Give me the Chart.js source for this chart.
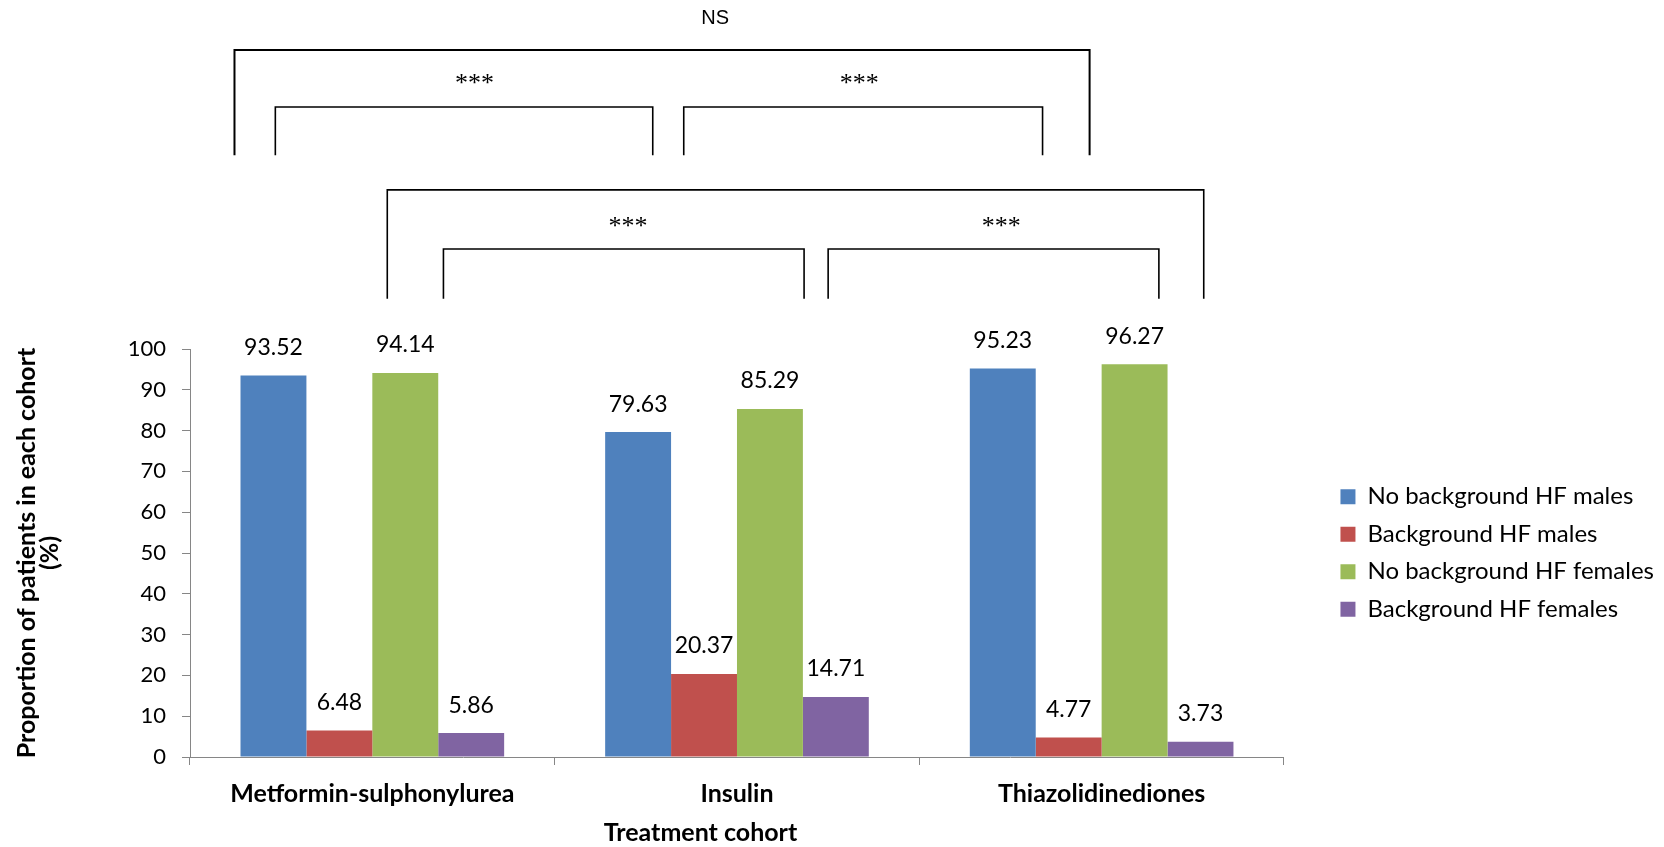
<!DOCTYPE html>
<html>
<head>
<meta charset="utf-8">
<script src="https://cdn.jsdelivr.net/npm/chart.js@4.4.1/dist/chart.umd.min.js"></script>
<style>
html, body { margin: 0; padding: 0; background: #fff; }
#wrap { position: relative; width: 1664px; height: 847px; }
</style>
</head>
<body>
<div id="wrap"><canvas id="hfChart"></canvas></div>
<script>
const cohorts = ['Metformin-sulphonylurea', 'Insulin', 'Thiazolidinediones'];
const seriesNames = ['No background HF males', 'Background HF males', 'No background HF females', 'Background HF females'];
const noHfMales = [93.52, 79.63, 95.23];
const hfMales = [6.48, 20.37, 4.77];
const noHfFemales = [94.14, 85.29, 96.27];
const hfFemales = [5.86, 14.71, 3.73];
const seriesColors = ['#4F81BD', '#C0504D', '#9BBB59', '#8064A2'];

// significance brackets: from/to in cohort widths from the left of the x axis,
// top/foot/textY in % units of the y axis (above 100 = above the plot)
const brackets = [
    { from: 0.122, to: 2.467, top: 173.3, foot: 147.5, text: 'NS',  textX: 1.44,  textY: 181.0, lw: 2 },
    { from: 0.234, to: 1.269, top: 159.3, foot: 147.5, text: '***', textX: 0.78,  textY: 165.9, lw: 1.6 },
    { from: 1.354, to: 2.338, top: 159.3, foot: 147.5, text: '***', textX: 1.835, textY: 165.9, lw: 1.6 },
    { from: 0.541, to: 2.780, top: 139.0, foot: 112.3, text: '',    textX: 0,     textY: 0,     lw: 1.6 },
    { from: 0.695, to: 1.684, top: 124.5, foot: 112.3, text: '***', textX: 1.201, textY: 130.8, lw: 1.6 },
    { from: 1.750, to: 2.657, top: 124.5, foot: 112.3, text: '***', textX: 2.225, textY: 130.8, lw: 1.6 }
];

Chart.defaults.font.family = 'Lato';
Chart.defaults.color = '#000';

const barLabels = {
    id: 'barLabels',
    afterDatasetsDraw(chart) {
        const ctx = chart.ctx;
        ctx.save();
        ctx.font = '23px Lato';
        ctx.fillStyle = '#000';
        ctx.textAlign = 'center';
        ctx.textBaseline = 'middle';
        chart.data.datasets.forEach((ds, i) => {
            chart.getDatasetMeta(i).data.forEach((bar, j) => {
                ctx.fillText(ds.data[j].toFixed(2), bar.x, bar.y - 28);
            });
        });
        ctx.restore();
    }
};

const sigBrackets = {
    id: 'sigBrackets',
    afterDraw(chart) {
        const { ctx, scales: { x, y } } = chart;
        const unit = x.width / cohorts.length;
        const px = u => x.left + u * unit;
        ctx.save();
        ctx.strokeStyle = '#000';
        ctx.fillStyle = '#000';
        ctx.textAlign = 'center';
        ctx.textBaseline = 'middle';
        brackets.forEach(b => {
            ctx.lineWidth = b.lw;
            ctx.beginPath();
            ctx.moveTo(px(b.from), y.getPixelForValue(b.foot));
            ctx.lineTo(px(b.from), y.getPixelForValue(b.top));
            ctx.lineTo(px(b.to), y.getPixelForValue(b.top));
            ctx.lineTo(px(b.to), y.getPixelForValue(b.foot));
            ctx.stroke();
            if (!b.text) return;
            if (b.text === 'NS') {
                ctx.font = '20px "Liberation Sans"';
                ctx.fillText(b.text, px(b.textX), y.getPixelForValue(b.textY));
            } else {
                ctx.font = '26px "Liberation Serif"';
                ctx.fillText(b.text, px(b.textX), y.getPixelForValue(b.textY) + 4);
            }
        });
        // x axis title, sits left of centre in the original
        ctx.font = 'bold 25px Lato';
        ctx.fillText('Treatment cohort', px(1.4), 833);
        ctx.restore();
    }
};

const series = [noHfMales, hfMales, noHfFemales, hfFemales];
new Chart(document.getElementById('hfChart'), {
    type: 'bar',
    data: {
        labels: cohorts,
        datasets: series.map((d, i) => ({
            label: seriesNames[i],
            data: d,
            backgroundColor: seriesColors[i],
            borderWidth: 0,
            categoryPercentage: 0.723,
            barPercentage: 1
        }))
    },
    options: {
        responsive: true,
        maintainAspectRatio: false,
        animation: false,
        layout: { padding: { top: 349, right: 0, bottom: 0, left: 0 } },
        scales: {
            x: {
                grid: { offset: true, drawOnChartArea: false, tickLength: 8, color: '#868686' },
                border: { color: '#868686' },
                ticks: { font: { size: 25, weight: 'bold' }, padding: 14, maxRotation: 0, autoSkip: false },
                afterFit: s => { s.height = 90; }
            },
            y: {
                min: 0,
                max: 100,
                ticks: { stepSize: 10, font: { size: 22 }, padding: 16 },
                grid: { drawOnChartArea: false, tickLength: 8, color: '#868686' },
                border: { color: '#868686' },
                title: {
                    display: true,
                    text: ['Proportion of patients in each cohort', '(%)'],
                    font: { size: 25, weight: 'bold', lineHeight: 0.94 },
                    padding: { top: 15, bottom: 0 }
                },
                afterFit: s => { s.width = 190; }
            },
            gap: {
                position: 'right',
                display: true,
                grid: { display: false },
                ticks: { display: false },
                border: { display: false },
                afterFit: s => { s.width = 43; }
            }
        },
        plugins: {
            legend: {
                position: 'right',
                fullSize: false,
                maxWidth: 400,
                labels: { boxWidth: 15, boxHeight: 15, padding: 13.5, font: { size: 24 } }
            },
            tooltip: { enabled: false }
        }
    },
    plugins: [barLabels, sigBrackets]
});
</script>
</body>
</html>
